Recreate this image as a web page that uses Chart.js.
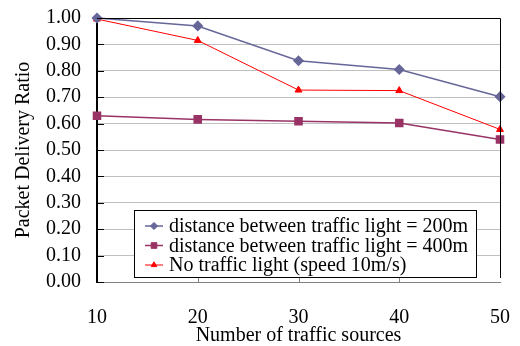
<!DOCTYPE html>
<html>
<head>
<meta charset="utf-8">
<script src="https://cdn.jsdelivr.net/npm/chart.js@4"></script>
<style>
    html, body { margin: 0; padding: 0; background: #fff; }
    #wrap { width: 520px; height: 346px; }
</style>
</head>
<body>
<div id="wrap"><canvas id="chart"></canvas></div>
<script>
    // Data
    const sources = [10, 20, 30, 40, 50];
    const ratio200m = [1.00, 0.970, 0.838, 0.805, 0.702];
    const ratio400m = [0.630, 0.616, 0.609, 0.602, 0.540];
    const ratioNoLight = [0.996, 0.915, 0.727, 0.725, 0.578];
    const seriesLabels = [
        'distance between traffic light = 200m',
        'distance between traffic light = 400m',
        'No traffic light (speed 10m/s)'
    ];

    const FONT = '"Liberation Serif"';

    function points(values) {
        return sources.map((x, i) => ({ x: x, y: values[i] }));
    }

    // Frame, inward tick marks and the boxed legend
    const framePlugin = {
        id: 'frame',
        afterDatasetsDraw(chart) {
            const ctx = chart.ctx;
            const { left, right, top, bottom } = chart.chartArea;
            const xs = chart.scales.x, ys = chart.scales.y;
            ctx.save();
            // top and right border
            ctx.strokeStyle = '#000';
            ctx.lineWidth = 1;
            ctx.beginPath();
            ctx.moveTo(left, top + 0.5);
            ctx.lineTo(right + 0.5, top + 0.5);
            ctx.lineTo(right + 0.5, bottom - 4);
            ctx.stroke();
            // y tick marks
            ys.ticks.forEach(t => {
                const y = Math.round(ys.getPixelForValue(t.value)) + 0.5;
                ctx.beginPath();
                ctx.moveTo(left, y);
                ctx.lineTo(left + 7, y);
                ctx.stroke();
            });
            // x tick marks
            ctx.strokeStyle = '#808080';
            xs.ticks.forEach(t => {
                if (t.value === xs.min || t.value === xs.max) return;
                const x = Math.round(xs.getPixelForValue(t.value)) + 0.5;
                ctx.beginPath();
                ctx.moveTo(x, bottom);
                ctx.lineTo(x, bottom - 5);
                ctx.stroke();
            });
            ctx.restore();
        },
        afterDraw(chart) {
            const ctx = chart.ctx;
            const box = { x: 134.5, y: 210.5, w: 342, h: 67 };
            ctx.save();
            ctx.fillStyle = '#fff';
            ctx.fillRect(box.x, box.y, box.w, box.h);
            ctx.strokeStyle = '#000';
            ctx.lineWidth = 1;
            ctx.strokeRect(box.x, box.y, box.w, box.h);
            ctx.font = '20px ' + FONT;
            ctx.textBaseline = 'middle';
            chart.data.datasets.forEach((ds, i) => {
                const y = 226 + i * 19.5;
                ctx.strokeStyle = ds.borderColor;
                ctx.lineWidth = ds.borderWidth;
                ctx.beginPath();
                ctx.moveTo(145, y);
                ctx.lineTo(163, y);
                ctx.stroke();
                ctx.fillStyle = ds.pointBackgroundColor;
                ctx.strokeStyle = ds.pointBorderColor;
                ctx.lineWidth = 1;
                Chart.helpers.drawPoint(ctx, {
                    pointStyle: ds.pointStyle,
                    radius: ds.pointRadius * 0.8,
                    borderWidth: 1
                }, 154, y);
                ctx.fillStyle = '#000';
                ctx.fillText(ds.label, 169, y + 1);
            });
            ctx.restore();
        }
    };

    new Chart(document.getElementById('chart'), {
        type: 'line',
        data: {
            datasets: [
                {
                    label: seriesLabels[0],
                    data: points(ratio200m),
                    borderColor: '#666699',
                    borderWidth: 1.5,
                    pointStyle: 'rectRot',
                    pointRadius: 4.5,
                    pointBackgroundColor: '#666699',
                    pointBorderColor: '#666699'
                },
                {
                    label: seriesLabels[1],
                    data: points(ratio400m),
                    borderColor: '#993366',
                    borderWidth: 1.5,
                    pointStyle: 'rect',
                    pointRadius: 5,
                    pointBackgroundColor: '#993366',
                    pointBorderColor: '#993366'
                },
                {
                    label: seriesLabels[2],
                    data: points(ratioNoLight),
                    borderColor: '#FF0000',
                    borderWidth: 1,
                    pointStyle: 'triangle',
                    pointRadius: 4,
                    pointBackgroundColor: '#FF0000',
                    pointBorderColor: '#FF0000'
                }
            ]
        },
        options: {
            responsive: true,
            maintainAspectRatio: false,
            animation: false,
            clip: false,
            layout: { padding: { left: 0, right: 20, top: 18, bottom: 0 } },
            plugins: {
                legend: { display: false },
                tooltip: { enabled: false }
            },
            elements: { line: { tension: 0 } },
            scales: {
                x: {
                    type: 'linear',
                    min: 10,
                    max: 50,
                    afterFit: s => { s.height = 64; s.paddingLeft = 0; s.paddingRight = 0; },
                    ticks: {
                        stepSize: 10,
                        padding: 24,
                        color: '#000',
                        font: { family: FONT, size: 20 }
                    },
                    grid: { display: false, drawTicks: false },
                    border: { color: '#808080', width: 1 },
                    title: {
                        display: true,
                        text: 'Number of traffic sources',
                        color: '#000',
                        font: { family: FONT, size: 20, lineHeight: 1 },
                        padding: { top: 0, bottom: 0 }
                    }
                },
                y: {
                    min: 0,
                    max: 1,
                    afterFit: s => { s.width = 97; s.paddingTop = 0; s.paddingBottom = 0; },
                    ticks: {
                        stepSize: 0.1,
                        autoSkip: false,
                        maxTicksLimit: 20,
                        padding: 16,
                        color: '#000',
                        font: { family: FONT, size: 20, lineHeight: 1 },
                        callback: v => v.toFixed(2)
                    },
                    grid: { color: '#C0C0C0', drawTicks: false },
                    border: { color: '#000', width: 2 },
                    title: {
                        display: true,
                        text: 'Packet Delivery Ratio',
                        color: '#000',
                        font: { family: FONT, size: 20 },
                        padding: { top: 12, bottom: 0 }
                    }
                }
            }
        },
        plugins: [framePlugin]
    });
</script>
</body>
</html>
